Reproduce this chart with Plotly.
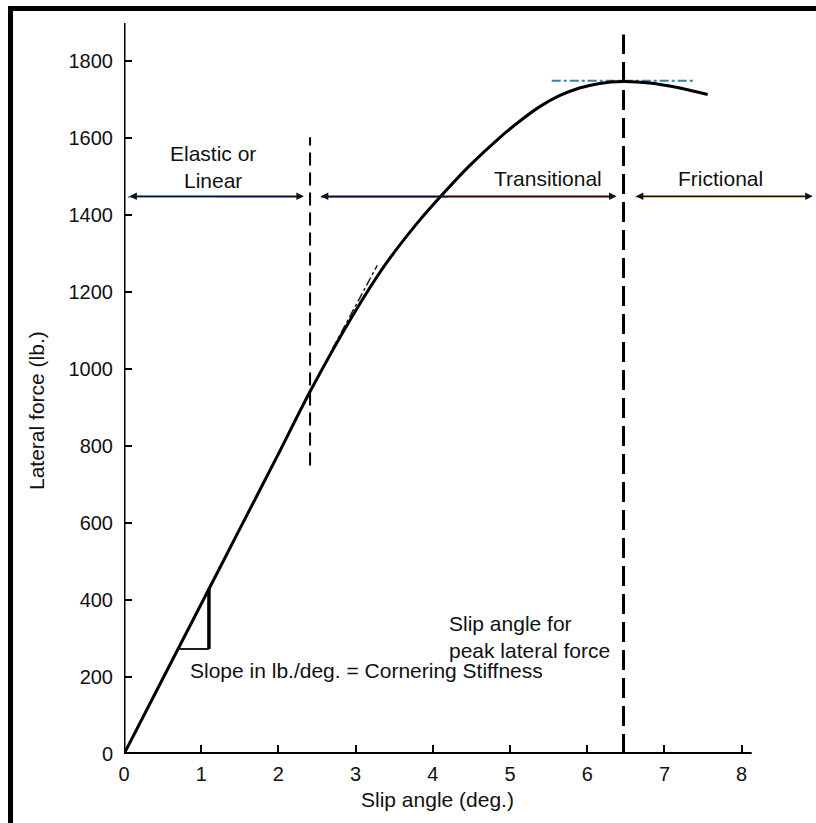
import plotly.graph_objects as go

# Lateral force vs slip angle curve (read values)
slip_deg = [0, 0.5, 1.0, 1.5, 2.0, 2.41, 2.94, 3.37, 3.79, 4.15, 4.47, 4.86,
            5.12, 5.38, 5.64, 5.90, 6.16, 6.46, 6.81, 7.20, 7.56]
lateral_lb = [0, 195, 390, 585, 780, 942, 1132, 1268, 1378, 1460, 1528, 1601,
              1644, 1682, 1711, 1731, 1743, 1748, 1744, 1731, 1714]

x_ticks = [0, 1, 2, 3, 4, 5, 6, 7, 8]
y_ticks = [0, 200, 400, 600, 800, 1000, 1200, 1400, 1600, 1800]

# Region boundaries and markers
linear_limit = 2.41          # end of elastic / linear range
peak_slip = 6.47             # slip angle for peak lateral force
peak_force = 1750
region_y = 1450              # height of the region arrows

# Cornering stiffness tangent and triangle
tangent_x = [2.70, 3.28]
tangent_y = [1053, 1270]
peak_tangent_x = [5.54, 7.40]
triangle_x = [0.70, 1.10, 1.10]
triangle_y = [273, 273, 430]

FONT = "Liberation Sans, Arial, Helvetica, sans-serif"
FS = 21
TICK_FS = 20

fig = go.Figure()

# faint coloured fringe under the x axis
fringe = [([0.0, 1.0], "#6cc0e8"), ([1.0, 3.6], "#2638c8"), ([3.6, 4.7], "#141a40"),
          ([4.7, 5.9], "#b8381a"), ([5.9, 8.13], "#e2a52a")]
for xs, c in fringe:
    fig.add_trace(go.Scatter(x=xs, y=[-3, -3], mode="lines",
                             line=dict(color=c, width=2), hoverinfo="skip"))

# axes lines
fig.add_trace(go.Scatter(x=[0, 8.13], y=[1.5, 1.5], mode="lines",
                         line=dict(color="black", width=3), hoverinfo="skip"))
fig.add_trace(go.Scatter(x=[0, 0], y=[0, 1900], mode="lines",
                         line=dict(color="black", width=3), hoverinfo="skip"))

# coloured fringe under region arrows
arrow_fringe = [([0.05, 1.2], "#3d92d6"), ([1.2, 2.3], "#2a5cb0"),
                ([2.55, 4.2], "#2a2a8a"), ([4.2, 6.35], "#a83a22"),
                ([6.62, 8.85], "#e0a526")]
for xs, c in arrow_fringe:
    fig.add_trace(go.Scatter(x=xs, y=[region_y - 2.5] * 2, mode="lines",
                             line=dict(color=c, width=1.5), hoverinfo="skip"))

# vertical dashed markers
fig.add_trace(go.Scatter(x=[linear_limit, linear_limit], y=[750, 1603], mode="lines",
                         line=dict(color="black", width=2, dash="13px,7px"),
                         hoverinfo="skip"))
fig.add_trace(go.Scatter(x=[peak_slip, peak_slip], y=[0, 1870], mode="lines",
                         line=dict(color="black", width=3, dash="20px,8px"),
                         hoverinfo="skip"))

# tangent lines
fig.add_trace(go.Scatter(x=tangent_x, y=tangent_y, mode="lines",
                         line=dict(color="#222222", width=1.5, dash="dashdot"),
                         hoverinfo="skip"))
fig.add_trace(go.Scatter(x=peak_tangent_x, y=[peak_force, peak_force], mode="lines",
                         line=dict(color="#2f86a8", width=2, dash="dashdot"),
                         hoverinfo="skip"))

# slope triangle
fig.add_trace(go.Scatter(x=triangle_x[:2], y=triangle_y[:2], mode="lines",
                         line=dict(color="#1a1a10", width=2), hoverinfo="skip"))
fig.add_trace(go.Scatter(x=triangle_x[1:], y=triangle_y[1:], mode="lines",
                         line=dict(color="black", width=3.5), hoverinfo="skip"))

# main curve
fig.add_trace(go.Scatter(x=slip_deg, y=lateral_lb, mode="lines",
                         line=dict(color="black", width=3, shape="spline", smoothing=0.8),
                         hoverinfo="skip"))

annotations = []

# region arrows
for x0, x1 in [(0.05, 2.33), (2.53, 6.38), (6.61, 8.92)]:
    annotations.append(dict(x=x1, y=region_y, ax=x0, ay=region_y,
                            xref="x", yref="y", axref="x", ayref="y",
                            text="", showarrow=True, arrowhead=2, arrowsize=1.0,
                            arrowwidth=1.5, arrowcolor="#111111", arrowside="end+start"))

def label(text, x, y, xanchor="center", align="center"):
    annotations.append(dict(x=x, y=y, xref="x", yref="y", text=text,
                            showarrow=False, xanchor=xanchor, yanchor="middle",
                            align=align, font=dict(family=FONT, size=FS, color="#111111")))

label("Elastic or<br>Linear", 1.15, 1526)
label("Transitional", 5.49, 1497)
label("Frictional", 7.72, 1497)
label("Slip angle for<br>peak lateral force", 4.18, 304, xanchor="left", align="left")
label("Slope in lb./deg. = Cornering Stiffness", 0.83, 218, xanchor="left", align="left")

# axis titles
annotations.append(dict(x=(437 - 124) / 691, y=(754 - 799) / 731, xref="paper", yref="paper",
                        text="Slip angle (deg.)", showarrow=False, xanchor="center",
                        yanchor="middle", font=dict(family=FONT, size=FS, color="#111111")))
annotations.append(dict(x=(37 - 124) / 691, y=(754 - 411) / 731, xref="paper", yref="paper",
                        text="Lateral force (lb.)", showarrow=False, textangle=-90,
                        xanchor="center", yanchor="middle",
                        font=dict(family=FONT, size=FS, color="#111111")))

# border lines of the figure
shapes = [
    dict(type="line", xref="paper", yref="paper", x0=(8 - 124) / 691, x1=(816 - 124) / 691,
         y0=(754 - 8.5) / 731, y1=(754 - 8.5) / 731, line=dict(color="black", width=5)),
    dict(type="line", xref="paper", yref="paper", x0=(10.5 - 124) / 691, x1=(10.5 - 124) / 691,
         y0=(754 - 6) / 731, y1=(754 - 830) / 731, line=dict(color="black", width=5)),
]

fig.update_layout(
    width=816, height=823,
    margin=dict(l=124, r=1, t=23, b=69),
    paper_bgcolor="white", plot_bgcolor="white",
    showlegend=False,
    annotations=annotations, shapes=shapes,
    xaxis=dict(range=[0, 8.95], tickvals=x_ticks, ticktext=[str(v) for v in x_ticks],
               ticks="inside", ticklen=9, tickwidth=1.5, tickcolor="black",
               showgrid=False, zeroline=False, showline=False,
               tickfont=dict(family=FONT, size=TICK_FS, color="#111111"),
               ticklabelstandoff=6),
    yaxis=dict(range=[0, 1900], tickvals=y_ticks, ticktext=[str(v) for v in y_ticks],
               ticks="inside", ticklen=8, tickwidth=1.5, tickcolor="black",
               showgrid=False, zeroline=False, showline=False,
               tickfont=dict(family=FONT, size=TICK_FS, color="#111111"),
               ticklabelstandoff=10),
)

fig.write_html("out.html")
